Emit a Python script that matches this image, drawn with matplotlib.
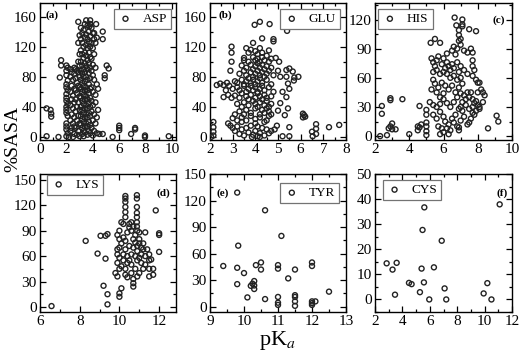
import numpy as np
import matplotlib
matplotlib.use("Agg")
import matplotlib.pyplot as plt
from matplotlib.ticker import MultipleLocator

plt.rcParams["font.family"] = ["Liberation Serif", "DejaVu Serif"]
plt.rcParams["mathtext.fontset"] = "stix"

# (pKa, %SASA) pairs, one list per residue
asp = [
    (0.5, 38), (0.8, 36), (0.85, 31), (0.85, 27), (0.5, 1), (1.4, 0),
    (1.6, 102), (1.6, 95), (1.5, 79), (2.9, 153), (3.8, 155), (3.8, 150),
    (3.75, 147), (4.25, 150), (4.75, 140), (4.75, 130), (5.05, 95), (5.2, 91),
    (4.9, 82), (4.9, 78), (4.5, 4), (4.75, 4), (5.5, 0), (6.0, 15), (6.0, 12),
    (6.0, 9), (7.2, 12), (7.2, 10), (6.9, 4), (7.95, 2), (7.95, 0), (9.75, 1),
    (2.0, 95), (2.1, 92), (2.0, 88), (2.0, 82), (2.1, 75), (2.0, 70), (2.0, 66),
    (2.1, 62), (2.0, 57), (2.0, 52), (2.0, 48), (2.1, 44), (2.0, 40), (2.0, 36),
    (2.0, 32), (2.1, 28), (2.0, 18), (2.0, 14), (2.0, 10), (2.1, 5), (2.0, 1),
    (2.2, 0), (2.3, 90), (2.4, 86), (2.3, 80), (2.5, 76), (2.4, 68), (2.3, 60),
    (2.5, 55), (2.4, 50), (2.3, 42), (2.5, 38), (2.4, 30), (2.3, 22), (2.5, 18),
    (2.4, 12), (2.3, 8), (2.6, 4), (2.5, 0), (2.6, 92), (2.6, 84), (2.6, 64),
    (2.6, 46), (2.6, 26), (2.6, 14), (2.7, 90), (2.8, 88), (2.9, 86), (2.7, 78),
    (2.8, 72), (2.9, 68), (2.7, 62), (2.8, 58), (3.0, 54), (2.7, 50), (2.9, 46),
    (2.8, 40), (3.0, 36), (2.7, 34), (2.9, 28), (2.8, 22), (3.0, 18), (2.7, 12),
    (2.9, 8), (2.8, 3), (3.0, 1), (2.9, 100), (3.0, 110), (2.9, 125), (3.0, 135),
    (3.0, 95), (3.0, 80), (3.0, 66), (3.1, 145), (3.2, 138), (3.3, 142),
    (3.4, 150), (3.1, 130), (3.2, 125), (3.3, 120), (3.4, 132), (3.1, 115),
    (3.2, 110), (3.3, 105), (3.4, 112), (3.1, 100), (3.2, 95), (3.3, 90),
    (3.4, 98), (3.1, 88), (3.2, 84), (3.3, 80), (3.4, 86), (3.1, 76), (3.2, 72),
    (3.3, 68), (3.4, 74), (3.1, 64), (3.2, 60), (3.3, 56), (3.4, 62), (3.1, 52),
    (3.2, 48), (3.3, 44), (3.4, 50), (3.1, 40), (3.2, 36), (3.3, 32), (3.4, 38),
    (3.1, 28), (3.2, 24), (3.3, 20), (3.4, 26), (3.1, 16), (3.2, 12), (3.3, 8),
    (3.4, 14), (3.2, 4), (3.3, 1), (3.4, 6), (3.5, 155), (3.6, 148), (3.7, 140),
    (3.8, 150), (3.5, 136), (3.6, 130), (3.7, 126), (3.8, 134), (3.5, 122),
    (3.6, 118), (3.7, 112), (3.8, 120), (3.5, 108), (3.6, 102), (3.7, 98),
    (3.8, 106), (3.5, 94), (3.6, 90), (3.7, 85), (3.8, 92), (3.5, 80), (3.6, 76),
    (3.7, 70), (3.8, 78), (3.5, 66), (3.6, 62), (3.7, 58), (3.8, 64), (3.5, 54),
    (3.6, 50), (3.7, 45), (3.8, 52), (3.5, 42), (3.6, 38), (3.7, 32), (3.8, 40),
    (3.5, 30), (3.6, 26), (3.7, 20), (3.8, 28), (3.5, 18), (3.6, 14), (3.7, 8),
    (3.8, 16), (3.6, 3), (3.8, 5), (3.9, 145), (4.0, 138), (4.1, 130),
    (3.9, 125), (4.0, 118), (4.1, 110), (3.9, 104), (4.0, 96), (4.2, 92),
    (3.9, 88), (4.0, 82), (4.1, 76), (4.3, 70), (3.9, 66), (4.0, 60), (4.2, 56),
    (4.4, 64), (3.9, 48), (4.0, 42), (4.2, 46), (3.9, 34), (4.1, 30), (4.3, 26),
    (4.0, 22), (4.2, 18), (3.9, 12), (4.1, 8), (4.3, 5), (4.0, 2), (4.4, 36),
    (4.2, 125), (4.1, 138), (4.3, 132),
]

glu = [
    (2.15, 20), (2.15, 13), (2.15, 7), (2.15, 2), (2.05, 0), (2.8, 18),
    (2.95, 120), (2.95, 112), (2.95, 100), (2.9, 88), (2.3, 69), (2.45, 71),
    (2.6, 69), (2.75, 72), (2.85, 68), (2.6, 53), (2.8, 56), (2.95, 52),
    (2.7, 62), (3.97, 149), (4.2, 153), (4.63, 150), (5.4, 141), (4.8, 130),
    (4.8, 127), (4.3, 131), (3.9, 125), (3.6, 118), (3.5, 105), (5.72, 79),
    (5.9, 80), (6.1, 31), (6.15, 29), (6.2, 27), (6.1, 26), (6.5, 7),
    (6.68, 17), (6.68, 11), (6.68, 4), (6.53, 1), (7.25, 13), (7.7, 16),
    (5.5, 13), (5.5, 1), (5.2, 1), (5.37, 89), (5.37, 80), (5.44, 71),
    (5.5, 64), (5.37, 53), (5.44, 38), (5.3, 29), (5.5, 91), (5.65, 87),
    (5.7, 75), (5.2, 60), (5.1, 45), (5.0, 35), (4.95, 15), (4.85, 10),
    (4.7, 8), (5.05, 100), (4.9, 105), (5.0, 88), (5.1, 80),
    (2.9, 15), (3.0, 12), (3.1, 8), (3.2, 14), (3.3, 4), (3.4, 10), (3.5, 2),
    (3.6, 12), (3.7, 6), (3.8, 15), (3.9, 3), (4.0, 8), (4.1, 1), (4.2, 5),
    (4.3, 12), (4.4, 2), (4.5, 10), (4.6, 5), (3.0, 25), (3.2, 22), (3.1, 30),
    (3.4, 20), (4.0, 18), (4.1, 14), (4.4, 20), (3.85, 0), (4.2, 0),
    (3.7, 112), (3.8, 116), (4.0, 114), (4.1, 110), (4.2, 118), (4.3, 112),
    (4.5, 108), (4.6, 115), (3.5, 102), (3.7, 100), (3.9, 106), (4.0, 102),
    (4.1, 104), (4.2, 100), (4.3, 106), (4.4, 102), (4.6, 100), (4.7, 104),
    (3.4, 95), (3.6, 92), (3.8, 96), (3.9, 90), (4.0, 94), (4.1, 98),
    (4.2, 92), (4.3, 96), (4.4, 90), (4.5, 94), (4.7, 92), (3.3, 84),
    (3.5, 88), (3.6, 82), (3.8, 86), (3.9, 80), (4.0, 84), (4.1, 88),
    (4.2, 82), (4.3, 86), (4.4, 80), (4.5, 84), (4.6, 88), (4.8, 82),
    (3.1, 74), (3.2, 72), (3.4, 76), (3.5, 70), (3.6, 74), (3.7, 78),
    (3.8, 72), (3.9, 76), (4.0, 70), (4.1, 74), (4.2, 78), (4.3, 72),
    (4.5, 76), (4.7, 70), (3.0, 64), (3.2, 66), (3.3, 62), (3.5, 68),
    (3.6, 60), (3.7, 64), (3.8, 68), (3.9, 62), (4.0, 66), (4.1, 60),
    (4.2, 64), (4.3, 68), (4.4, 62), (4.6, 66), (4.8, 60), (3.1, 55),
    (3.3, 52), (3.4, 58), (3.6, 54), (3.7, 50), (3.8, 56), (4.0, 52),
    (4.1, 58), (4.2, 54), (4.3, 50), (4.4, 56), (4.5, 52), (4.7, 54),
    (3.2, 44), (3.4, 40), (3.5, 46), (3.7, 42), (3.9, 48), (4.0, 44),
    (4.1, 40), (4.2, 46), (4.4, 42), (4.5, 48), (4.6, 40), (4.7, 44),
    (3.3, 34), (3.5, 30), (3.6, 36), (3.8, 32), (4.0, 38), (4.2, 30),
    (4.3, 36), (4.4, 32), (4.5, 38), (4.6, 34), (4.7, 30), (3.4, 26),
    (3.6, 22), (3.8, 28), (4.0, 24), (4.2, 26), (4.5, 22), (4.6, 28),
]

his = [
    (2.3, 0), (2.4, 31), (2.4, 23), (2.7, 1), (2.8, 8), (2.9, 10), (3.0, 7),
    (3.2, 7), (3.0, 13), (2.9, 39), (2.9, 37), (3.6, 38), (4.0, 2), (4.6, 31),
    (4.5, 10), (4.6, 9), (4.5, 6), (4.7, 12), (5.0, 5), (5.0, 10), (5.0, 14),
    (5.0, 22), (5.0, 27), (5.0, 1), (8.6, 8), (9.1, 21), (9.2, 15),
    (6.65, 122), (7.1, 120), (7.1, 115), (7.1, 113), (6.75, 114), (6.9, 109),
    (6.9, 104), (7.5, 110), (7.9, 108), (5.25, 96), (5.5, 100), (5.8, 96),
    (6.2, 85), (6.5, 88), (6.6, 92), (6.8, 90), (7.0, 94), (7.2, 88),
    (7.4, 86), (7.6, 90), (7.7, 86), (6.9, 98), (7.0, 100), (6.7, 84),
    (5.3, 80), (5.4, 76), (5.5, 72), (5.6, 78), (5.7, 82), (5.9, 74),
    (6.0, 80), (6.1, 70), (6.2, 76), (6.3, 72), (6.4, 68), (6.5, 74),
    (6.6, 70), (6.8, 76), (7.0, 72), (7.2, 68), (7.7, 78), (7.7, 72),
    (7.8, 68), (7.7, 62), (5.4, 66), (5.6, 68), (5.8, 64), (6.0, 66),
    (6.2, 64), (6.4, 60), (6.6, 62), (6.8, 58), (7.0, 60), (6.9, 66),
    (7.4, 64), (7.9, 58), (8.0, 55), (5.4, 58), (5.5, 54), (5.7, 50),
    (5.9, 55), (6.1, 52), (6.3, 48), (6.5, 52), (6.7, 45), (6.9, 50),
    (7.1, 54), (5.3, 48), (5.6, 45), (5.8, 40), (6.0, 44), (8.2, 48),
    (8.3, 45), (8.4, 42), (8.1, 55), (5.2, 35), (5.4, 32), (5.6, 30),
    (5.8, 33), (6.0, 38), (6.2, 34), (6.4, 30), (6.6, 35), (6.8, 40),
    (7.0, 44), (7.2, 42), (7.4, 45), (7.5, 40), (7.6, 45), (7.7, 38),
    (7.8, 34), (7.9, 36), (8.0, 32), (8.1, 28), (8.3, 35), (7.0, 30),
    (7.1, 26), (7.3, 32), (7.5, 28), (7.7, 30), (6.9, 28), (7.1, 35),
    (7.3, 38), (8.0, 45), (5.4, 22), (5.6, 18), (5.8, 25), (6.0, 20),
    (6.1, 15), (6.3, 12), (6.5, 18), (6.7, 22), (5.7, 10), (5.9, 8),
    (6.0, 4), (6.2, 8), (6.4, 6), (6.6, 14), (6.8, 10), (6.9, 6), (7.0, 16),
    (7.2, 20), (7.4, 12), (7.6, 18), (7.8, 22), (5.8, 2), (6.3, 2), (6.9, 9),
    (7.5, 14), (7.7, 24), (7.9, 26), (8.1, 30),
]

lys = [
    (6.58, 1), (8.3, 78), (8.9, 63), (9.05, 84), (9.3, 84), (9.4, 86),
    (9.3, 57), (9.2, 25), (9.4, 15), (9.4, 3), (10.0, 16), (10.0, 12),
    (10.1, 22), (10.3, 131), (10.3, 128), (10.3, 124), (10.3, 118),
    (10.3, 112), (10.3, 106), (10.88, 132), (10.88, 128), (10.88, 118),
    (10.88, 111), (10.88, 106), (10.88, 100), (10.88, 95), (11.83, 114),
    (12.0, 87), (12.0, 85), (12.0, 65), (11.5, 55), (11.5, 45), (11.5, 36),
    (9.9, 85), (10.0, 80), (10.1, 100), (10.2, 98), (10.1, 75), (10.0, 70),
    (9.9, 62), (10.0, 58), (9.9, 52), (9.8, 40), (9.9, 36), (10.0, 45),
    (10.1, 48), (10.2, 55), (10.2, 62), (10.3, 68), (10.3, 78), (10.4, 88),
    (10.5, 94), (10.6, 90), (10.5, 72), (10.4, 60), (10.4, 52), (10.3, 45),
    (10.3, 38), (10.4, 35), (10.5, 55), (10.6, 50), (10.6, 62), (10.7, 70),
    (10.7, 80), (10.8, 85), (10.8, 76), (10.9, 72), (10.9, 66), (11.0, 75),
    (11.0, 80), (11.1, 70), (11.1, 62), (11.2, 68), (11.2, 75), (11.3, 60),
    (11.3, 50), (11.2, 45), (11.1, 52), (11.0, 58), (10.9, 55), (10.8, 45),
    (10.7, 33), (10.7, 28), (10.7, 24), (10.9, 36), (11.0, 40), (11.3, 88),
    (11.4, 68), (11.5, 62), (11.6, 56), (11.7, 45), (11.7, 38), (10.5, 98),
    (10.6, 100), (10.7, 95), (10.9, 90), (11.0, 88), (10.2, 82), (10.0, 90),
    (9.9, 68), (10.8, 60), (10.6, 40),
]

tyr = [
    (9.39, 46), (9.8, 129), (9.8, 44), (9.8, 25.5), (9.83, 69), (10.0, 38),
    (10.1, 10.5), (10.2, 23.6), (10.25, 26), (10.3, 29), (10.3, 20),
    (10.3, 24), (10.35, 47), (10.5, 50), (10.5, 42), (10.62, 109),
    (10.62, 8.6), (11.0, 47), (11.0, 43), (11.0, 11), (11.0, 4.5), (11.0, 2),
    (11.1, 80), (11.3, 32), (11.5, 42), (11.5, 13), (11.5, 11), (11.5, 6),
    (11.5, 1), (12.0, 50), (12.0, 46), (12.0, 6), (12.0, 4), (12.0, 2),
    (12.1, 6), (12.5, 17),
]

cys = [
    (2.85, 14.4), (3.28, 11.9), (3.58, 14.6), (3.46, 1.9), (4.48, 6.6),
    (4.67, 6.1), (5.28, 2.9), (5.4, 12.3), (5.47, 27.7), (5.57, 6.8),
    (5.6, 36.7), (5.96, 0.0), (6.3, 12.8), (6.87, 23.4), (7.08, 4.4),
    (7.2, 0.0), (9.93, 2.4), (10.2, 6.5), (10.5, 0.0), (11.1, 37.9),
]

names = ["ASP", "GLU", "HIS", "LYS", "TYR", "CYS"]
tags = ["(a)", "(b)", "(c)", "(d)", "(e)", "(f)"]
series = [asp, glu, his, lys, tyr, cys]

# per panel: xlim, ylim, x major/minor, y major/minor
xlims = [(0, 10.3), (2, 8), (2, 10), (6, 12.85), (9, 13), (2, 12)]
ylims = [(-4, 178), (-4, 178), (-4, 137), (-6, 157), (-6, 150), (-5, 50)]
xticks = [(2, 1), (1, 0.5), (2, 1), (2, 1), (1, 0.5), (2, 1)]
yticks = [(40, 20), (40, 20), (30, 15), (30, 15), (30, 15), (10, 5)]

# legend corner and panel tag position, axes fraction
leg_pos = [("upper right", (0.963, 0.956)), ("upper right", (0.956, 0.956)),
           ("upper left", (0.022, 0.956)), ("upper left", (0.05, 0.995)),
           ("upper right", (0.95, 0.935)), ("upper left", (0.056, 0.957))]
tag_pos = [(0.088, 0.912), (0.11, 0.912), (0.905, 0.876),
           (0.904, 0.862), (0.09, 0.862), (0.927, 0.862)]

W, H = 520, 351
fig = plt.figure(figsize=(W / 100, H / 100), dpi=100)

lefts = [40, 210, 375]
widths = [136, 136, 137]
rows = [(3, 140), (174, 312)]

for i, pts in enumerate(series):
    r, c = divmod(i, 3)
    top, bot = rows[r]
    ax = fig.add_axes([lefts[c] / W, 1 - bot / H, widths[c] / W, (bot - top) / H])
    arr = np.array(pts, dtype=float)
    ax.scatter(arr[:, 0], arr[:, 1], s=13, facecolors="none",
               edgecolors="#222222", linewidths=1.0, label=names[i], zorder=3)
    ax.set_xlim(*xlims[i])
    ax.set_ylim(*ylims[i])
    ax.xaxis.set_major_locator(MultipleLocator(xticks[i][0]))
    ax.xaxis.set_minor_locator(MultipleLocator(xticks[i][1]))
    ax.yaxis.set_major_locator(MultipleLocator(yticks[i][0]))
    ax.yaxis.set_minor_locator(MultipleLocator(yticks[i][1]))
    ax.tick_params(which="both", direction="in", top=True, right=True,
                   labelsize=11, pad=2.5, width=0.9)
    ax.tick_params(which="major", length=4)
    ax.tick_params(which="minor", length=2)
    for sp in ax.spines.values():
        sp.set_linewidth(1.0)
    loc, anchor = leg_pos[i]
    ax.legend(loc=loc, bbox_to_anchor=anchor, borderaxespad=0,
              fontsize=9.5, frameon=True, fancybox=False, framealpha=1,
              edgecolor="0.45", handlelength=1.2, handletextpad=0.7,
              borderpad=0.3, scatterpoints=1)
    ax.get_legend().get_frame().set_linewidth(0.9)
    ax.text(*tag_pos[i], tags[i], transform=ax.transAxes, fontsize=8,
            fontweight="bold", ha="center", va="center")

fig.text(13 / W, 1 - 139 / H, "%SASA", rotation=90, fontsize=14,
         ha="center", va="center")
fig.text(277 / W, 1 - 340 / H, r"pK$_{a}$", fontsize=16,
         ha="center", va="center")

fig.savefig("out.png", dpi=100)
